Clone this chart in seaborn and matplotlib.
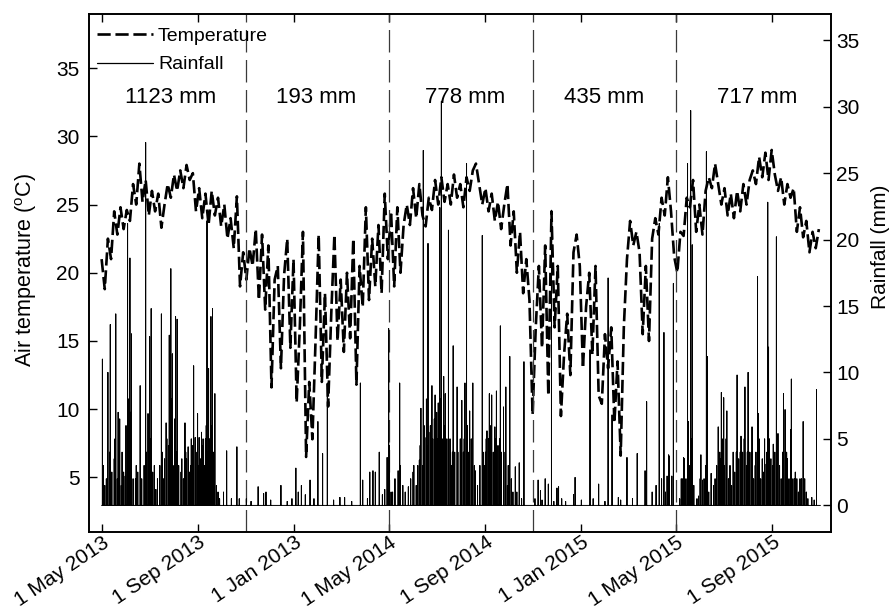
import numpy as np
import pandas as pd
import seaborn as sns
import matplotlib.pyplot as plt
from matplotlib.lines import Line2D

start = pd.Timestamp('2013-05-01')

# daily air temperature, one value every 4 days from 1 May 2013
temp_c = [
    21.0, 18.8, 22.5, 21.0, 24.5, 22.8, 24.8, 23.2,
    24.6, 23.8, 26.5, 25.0, 28.0, 25.2, 26.8, 24.2,
    26.0, 24.5, 25.8, 23.3, 25.0, 26.5, 25.5, 27.2,
    26.0, 27.5, 26.2, 27.9, 26.8, 27.3, 24.5, 26.2,
    24.0, 25.8, 23.5, 26.0, 24.2, 25.5, 23.4, 25.0,
    22.5, 24.0, 21.8, 25.6, 19.0, 21.5, 19.5, 21.8,
    20.5, 23.2, 18.0, 22.8, 17.3, 22.0, 11.6, 19.5,
    20.5, 13.0, 19.8, 22.5, 14.5, 21.0, 10.5, 16.0,
    23.0, 6.5, 12.0, 7.8, 15.0, 22.8, 12.0, 18.5,
    10.2, 17.0, 22.8, 15.0, 19.5, 14.2, 20.0,
    15.2, 22.5, 11.8, 20.5, 17.5, 24.8, 18.0, 22.5,
    19.0, 23.5, 18.5, 25.8, 21.0, 24.5, 19.0, 24.8,
    20.0, 23.5, 25.0, 23.5, 26.2, 24.0, 26.5, 24.2,
    23.4, 25.5, 24.6, 26.8, 25.0, 27.0, 25.2, 26.5,
    25.0, 27.2, 25.5, 26.5, 24.8, 27.0, 26.0, 27.5,
    28.0, 26.5, 25.0, 26.2, 24.5, 25.8, 23.8, 25.2,
    23.2, 25.0, 26.5, 22.0, 24.5, 20.0, 23.0, 18.5,
    21.0, 18.0, 9.6, 16.0, 20.5, 14.5, 22.0, 11.0,
    24.5, 16.0, 20.5, 9.5, 14.0, 17.0, 12.5, 21.5,
    22.8, 20.5, 13.0, 17.5, 20.0, 14.0, 20.5, 11.0,
    10.4, 15.5, 13.0, 16.0, 9.0, 13.5, 6.6, 16.0,
    21.0, 23.8, 22.0, 23.0, 21.5, 15.5, 20.5,
    15.0, 22.5, 24.0, 22.8, 25.5, 24.2, 27.0, 24.5,
    21.2, 20.0, 23.0, 22.7, 25.5, 24.8, 26.8, 23.0, 25.0, 22.8,
    26.0, 27.0, 26.2, 28.0, 26.5, 25.0, 26.2, 24.2, 25.8, 24.0,
    26.0, 24.5, 26.5, 25.0, 26.8, 27.5, 26.5, 28.5, 27.0, 28.8,
    26.8, 29.0, 27.2, 26.0, 27.0, 25.0, 26.5, 25.5, 26.2, 23.0,
    24.8, 22.6, 23.8, 21.5, 23.0, 21.8, 23.2,
]

# rain days: (day counted from 1 May 2013, mm)
rain_wet_2013 = [
    (1, 11.0), (2, 3), (4, 1.5), (6, 2), (8, 10.0), (10, 4), (11, 13.6), (13, 2.5),
    (16, 3.5), (17, 5), (18, 14.4), (20, 2), (21, 7.0), (22, 4), (23, 6.5), (25, 1.5),
    (26, 4), (28, 2.5), (30, 2.2), (31, 6), (33, 21.2), (34, 8), (35, 5), (36, 18.6),
    (37, 7), (38, 12.9), (40, 2), (43, 2), (44, 3), (46, 2.5), (49, 9.0), (51, 2),
    (54, 3), (56, 27.3), (57, 4), (59, 6.9), (60, 3), (61, 12.7), (62, 5), (63, 14.8),
    (65, 2.5), (67, 3), (69, 1.2), (71, 2), (74, 3), (76, 14.4), (77, 4), (79, 2),
    (80, 3.5), (82, 6.2), (83, 5), (85, 4.5), (86, 12.8), (87, 6), (88, 17.8), (89, 8),
    (90, 11.4), (92, 3), (93, 6.5), (94, 14.2), (95, 4), (96, 14.0), (98, 3), (101, 2.5),
    (102, 3.5), (104, 2), (106, 6.2), (107, 4), (108, 3.5), (110, 4.4), (112, 2.5),
    (113, 3), (114, 5), (116, 4.5), (117, 10.5), (119, 5.1), (120, 4), (122, 6.9),
    (123, 3), (124, 5.1), (126, 3.5), (127, 5.5), (128, 4.5), (129, 5.0), (131, 3),
    (132, 5), (133, 6), (134, 21.4), (135, 4), (136, 10.3), (137, 5), (139, 14.2),
    (140, 6), (141, 14.8), (142, 4), (144, 8.4), (146, 1.5), (148, 1), (150, 0.5),
    (155, 1), (159, 4.1), (165, 0.5), (172, 4.4), (175, 0.5), (184, 0.5),
]
rain_dry_2014 = [
    (190, 0.3), (199, 1.4), (206, 0.9), (209, 1.0), (215, 0.4), (228, 1.5), (236, 0.3),
    (242, 0.5), (247, 2.8), (250, 1.0), (254, 1.5), (259, 0.8), (265, 1.9), (270, 0.5),
    (275, 6.3), (281, 3.9), (287, 9.2), (295, 0.4), (303, 0.6), (309, 0.6), (318, 0.3),
    (329, 9.2), (332, 1.9), (338, 0.5), (341, 2.5), (345, 2.6), (348, 2.5), (353, 4.0),
    (357, 0.8), (360, 1.2), (363, 3.6),
]
rain_wet_2014 = [
    (365, 13.3), (366, 4.5), (368, 1), (370, 1), (373, 2), (377, 2.6), (379, 9.2),
    (380, 3), (383, 1.5), (386, 1), (390, 1.4), (393, 2), (396, 2.5), (397, 3),
    (400, 1.5), (402, 3), (404, 3.4), (405, 4.5), (406, 7.3), (408, 3), (409, 26.7),
    (410, 6), (411, 5.1), (413, 8), (414, 4.5), (415, 19.7), (416, 5.5), (418, 6),
    (420, 9), (421, 5), (423, 6.5), (424, 8.3), (426, 7), (427, 5), (428, 7.7),
    (429, 6), (430, 22.4), (431, 8), (432, 30.4), (433, 5), (435, 9.7), (436, 6),
    (437, 8.4), (439, 5), (441, 20.7), (443, 5), (445, 3), (446, 4), (447, 12.0),
    (449, 4), (452, 8.9), (453, 4), (456, 5), (458, 7.9), (460, 4), (461, 5),
    (462, 9.2), (464, 25.7), (465, 6), (466, 4), (468, 7.1), (470, 5), (472, 9.2),
    (474, 3), (475, 2.6), (478, 1.5), (481, 3), (484, 20.3), (485, 4), (487, 3),
    (488, 4), (489, 5), (490, 5.6), (492, 5), (493, 8.4), (494, 6), (496, 8.3),
    (498, 4), (500, 5.9), (501, 5), (502, 8.6), (504, 4.5), (506, 5), (507, 13.5),
    (508, 4), (511, 7.4), (513, 4), (514, 8.9), (516, 1.5), (517, 3), (519, 11.2),
    (521, 2), (523, 1), (526, 2.9), (528, 1), (531, 3.2), (534, 0.5), (537, 10.8),
]
rain_dry_2015 = [
    (551, 0.5), (555, 1.9), (558, 1.1), (560, 0.4), (564, 2.0), (568, 1.6), (572, 22.2),
    (575, 0.3), (579, 1.3), (581, 1.4), (585, 0.5), (590, 0.3), (600, 0.8), (602, 2.1),
    (610, 0.4), (621, 11.7), (625, 0.5), (632, 1.6), (640, 0.3), (644, 17.1), (649, 6.8),
    (657, 0.6), (660, 0.4), (668, 3.6), (675, 0.5), (681, 3.9), (691, 2.6), (693, 7.8),
    (700, 1.0), (705, 1.5), (709, 21.2), (712, 2.0), (715, 13.0), (717, 1.0), (719, 2.2),
    (721, 3.8), (722, 3.7), (725, 2.2), (727, 16.7),
]
rain_wet_2015 = [
    (735, 0.5), (737, 2), (739, 2), (740, 3.6), (741, 3.5), (743, 2), (745, 25.7),
    (746, 6.3), (747, 3), (749, 29.7), (750, 5), (751, 19.6), (753, 1.5), (757, 0.5),
    (759, 0.7), (761, 2), (762, 3.8), (764, 1.9), (766, 2), (768, 3), (769, 26.6),
    (770, 11.2), (772, 1), (775, 2.4), (778, 1.5), (780, 2), (782, 3), (784, 5.9),
    (786, 4), (787, 3.5), (788, 8.5), (789, 5), (791, 8.1), (792, 3), (794, 5),
    (795, 7.1), (797, 2), (799, 3), (801, 1.5), (803, 4), (805, 2.5), (807, 4),
    (808, 9.8), (810, 3.5), (812, 4), (813, 5.2), (815, 4), (817, 5), (818, 8.9),
    (820, 3), (821, 4), (822, 10.0), (824, 4), (826, 4), (827, 5.9), (829, 2),
    (831, 3), (832, 4), (834, 17.2), (835, 6.9), (836, 5), (838, 2), (840, 3.5),
    (842, 2.5), (843, 5), (845, 3.1), (846, 4), (847, 22.8), (848, 11.9), (849, 5),
    (851, 3.5), (853, 3), (854, 4.6), (856, 4), (858, 20.2), (859, 4), (860, 5.4),
    (862, 3), (864, 2), (866, 4), (867, 8.4), (869, 7.2), (871, 4), (872, 3.5),
    (874, 2), (876, 5.7), (877, 9.5), (879, 2), (881, 2), (882, 2.5), (884, 2),
    (886, 1), (888, 2), (890, 2), (892, 6.3), (894, 2), (896, 1), (898, 0.5),
    (903, 0.6), (906, 0.4), (909, 8.7),
]

season_breaks = ['2013-11-01', '2014-05-01', '2014-11-01', '2015-05-01']
season_totals = ['1123 mm', '193 mm', '778 mm', '435 mm', '717 mm']
season_label_at = ['2013-07-28', '2014-01-29', '2014-08-06', '2015-01-30', '2015-08-13']

tick_dates = ['2013-05-01', '2013-09-01', '2014-01-01', '2014-05-01',
              '2014-09-01', '2015-01-01', '2015-05-01', '2015-09-01']
tick_labels = ['1 May 2013', '1 Sep 2013', '1 Jan 2013', '1 May 2014',
               '1 Sep 2014', '1 Jan 2015', '1 May 2015', '1 Sep 2015']

temp_df = pd.DataFrame({
    'date': start + pd.to_timedelta(np.arange(len(temp_c)) * 4, unit='D'),
    'temp': temp_c,
})

n_days = 915
rain = np.zeros(n_days)
for season in [rain_wet_2013, rain_dry_2014, rain_wet_2014, rain_dry_2015, rain_wet_2015]:
    for day, mm in season:
        rain[day] = mm

# each day drawn as a stick: 0 -> value -> 0 at the same date
days = start + pd.to_timedelta(np.arange(n_days), unit='D')
rain_df = pd.DataFrame({
    'date': np.repeat(days, 3),
    'rain': np.column_stack([np.zeros(n_days), rain, np.zeros(n_days)]).ravel(),
})

sns.set_style('ticks')
plt.rcParams['font.family'] = ['Liberation Sans', 'DejaVu Sans']
plt.rcParams['mathtext.fontset'] = 'custom'
plt.rcParams['mathtext.rm'] = 'Liberation Sans'
for k in ['text.color', 'axes.labelcolor', 'xtick.color', 'ytick.color', 'axes.edgecolor']:
    plt.rcParams[k] = 'black'

fig = plt.figure(figsize=(8.93, 6.09), dpi=100)
ax = fig.add_axes([0.0997, 0.1264, 0.8305, 0.8514])
ax2 = ax.twinx()

sns.lineplot(data=temp_df, x='date', y='temp', ax=ax, color='black', lw=1.9)
temp_line = ax.lines[-1]
temp_line.set_dashes((5, 1.8))

sns.lineplot(data=rain_df, x='date', y='rain', ax=ax2, color='black', lw=0.7,
             estimator=None, sort=False)

for d in season_breaks:
    ax.axvline(pd.Timestamp(d), color='#3a3a3a', lw=0.9, dashes=(18, 6))

for d, txt in zip(season_label_at, season_totals):
    ax.text(pd.Timestamp(d), 32.85, txt, ha='center', va='center', fontsize=16)

ax.set_xlim(pd.Timestamp('2013-04-15'), pd.Timestamp('2015-11-14'))
ax.set_ylim(1, 39)
ax2.set_ylim(-2, 37)
ax.set_yticks(range(5, 40, 5))
ax2.set_yticks(range(0, 40, 5))
ax.set_xticks(pd.to_datetime(tick_dates))
ax.set_xticklabels(tick_labels, rotation=34, ha='right', va='top', rotation_mode='anchor')

ax.tick_params(axis='x', direction='in', top=True, length=5.5, width=1, labelsize=15, pad=0.5)
ax.tick_params(axis='y', direction='in', length=5.5, width=1, labelsize=15, pad=7)
ax2.tick_params(axis='y', direction='in', length=5.5, width=1, labelsize=15, pad=4)

ax.set_xlabel('')
ax.set_ylabel(r'Air temperature ($^{\mathrm{o}}$C)', fontsize=15.5)
ax2.set_ylabel('Rainfall (mm)', fontsize=15)
ax.yaxis.set_label_coords(-0.068, 0.505)
ax2.yaxis.set_label_coords(1.0543, 0.55)

for a in (ax, ax2):
    for s in a.spines.values():
        s.set_linewidth(1.2)
        s.set_color('black')

handles = [Line2D([], [], color='black', lw=1.9, dashes=(5, 1.8)),
           Line2D([], [], color='black', lw=0.9)]
ax2.legend(handles, ['Temperature', 'Rainfall'], loc='upper left',
           bbox_to_anchor=(0.0, 0.988), frameon=False,
           fontsize=14, handlelength=2.9, handletextpad=0.25, labelspacing=0.55,
           borderaxespad=0.0, borderpad=0.4)

fig.savefig('out.png', dpi=100)
